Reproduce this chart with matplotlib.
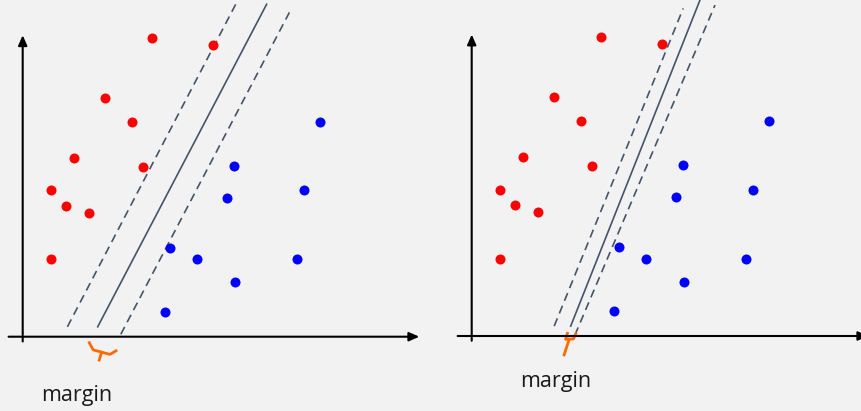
import matplotlib
matplotlib.use("Agg")
import matplotlib.pyplot as plt

plt.rcParams["font.family"] = ["Open Sans", "DejaVu Sans"]

# ── data (same points in both panels, units = arbitrary feature space) ──
red_x = [4.30, 6.33, 2.73, 3.64, 1.71, 4.00, 0.93, 1.45, 2.20, 0.93]
red_y = [9.97, 9.72, 7.96, 7.15, 5.95, 5.66, 4.88, 4.37, 4.12, 2.58]
blue_x = [9.92, 7.04, 9.38, 6.82, 4.92, 5.81, 9.13, 7.09, 4.73]
blue_y = [7.15, 5.70, 4.88, 4.63, 2.97, 2.58, 2.58, 1.81, 0.83]

# separating line + margin lines: (x0, y0, x1, y1)
wide_solid = [2.50, 0.33, 8.13, 11.08]
wide_lo = [1.49, 0.33, 7.10, 11.08]
wide_hi = [3.27, 0.08, 8.89, 10.81]
narrow_solid = [3.30, 0.33, 7.63, 11.25]
narrow_lo = [2.75, 0.33, 7.05, 10.92]
narrow_hi = [3.44, 0.03, 8.11, 11.03]

# margin brace shapes
wide_brace_x = [2.22, 2.35, 2.91, 3.11]
wide_brace_y = [-0.20, -0.44, -0.59, -0.47]
wide_stem_x = [2.63, 2.55]
wide_stem_y = [-0.52, -0.78]
narrow_brace_x = [3.19, 3.13, 3.39, 3.47]
narrow_brace_y = [0.09, -0.11, -0.10, 0.07]
narrow_stem_x = [3.25, 3.08]
narrow_stem_y = [-0.11, -0.63]

label = "margin"

BG = "#f2f2f2"
LINE_C = "#44546a"
PX = 30.0  # pixels per data unit
W, H = 862, 411

fig = plt.figure(figsize=(W / 100, H / 100), dpi=100, facecolor=BG)


def panel(x_px0, x_px1, ox, oy, solid, lo, hi, bx, by, sx, sy, text_xy):
    ax = fig.add_axes([x_px0 / W, 0, (x_px1 - x_px0) / W, 1])
    ax.set_facecolor(BG)
    ax.set_xlim((x_px0 - ox) / PX, (x_px1 - ox) / PX)
    ax.set_ylim((oy - H) / PX, oy / PX)
    ax.axis("off")

    arrow = dict(arrowstyle="-|>,head_length=0.5,head_width=0.22",
                 lw=1.5, color="black", mutation_scale=12, shrinkA=0, shrinkB=0)
    ax.annotate("", xy=(0, 10.05), xytext=(0, -0.16), arrowprops=arrow,
                annotation_clip=False)
    ax.annotate("", xy=(13.22, 0), xytext=(-0.47, 0), arrowprops=arrow,
                annotation_clip=False)

    ax.plot([solid[0], solid[2]], [solid[1], solid[3]], color=LINE_C, lw=1.2)
    for seg in (lo, hi):
        ax.plot([seg[0], seg[2]], [seg[1], seg[3]], color=LINE_C, lw=1.2,
                dashes=(5.0, 3.2))

    ax.scatter(red_x, red_y, s=52, color="#ff0000", zorder=3, linewidths=0)
    ax.scatter(blue_x, blue_y, s=52, color="#0000ff", zorder=3, linewidths=0)

    ax.plot(bx, by, color="#ff6a00", lw=2.0, solid_joinstyle="round",
            clip_on=False)
    ax.plot(sx, sy, color="#ff6a00", lw=2.0, clip_on=False)

    ax.text(text_xy[0], text_xy[1], label, fontsize=15.5, color="#1a1a1a",
            ha="left", va="baseline")
    return ax


panel(0, 431, 22.7, 336.7, wide_solid, wide_lo, wide_hi,
      wide_brace_x, wide_brace_y, wide_stem_x, wide_stem_y, (0.6, -2.14))
panel(431, 862, 471.7, 336.0, narrow_solid, narrow_lo, narrow_hi,
      narrow_brace_x, narrow_brace_y, narrow_stem_x, narrow_stem_y, (1.63, -1.69))

fig.savefig("out.png", dpi=100, facecolor=BG)
